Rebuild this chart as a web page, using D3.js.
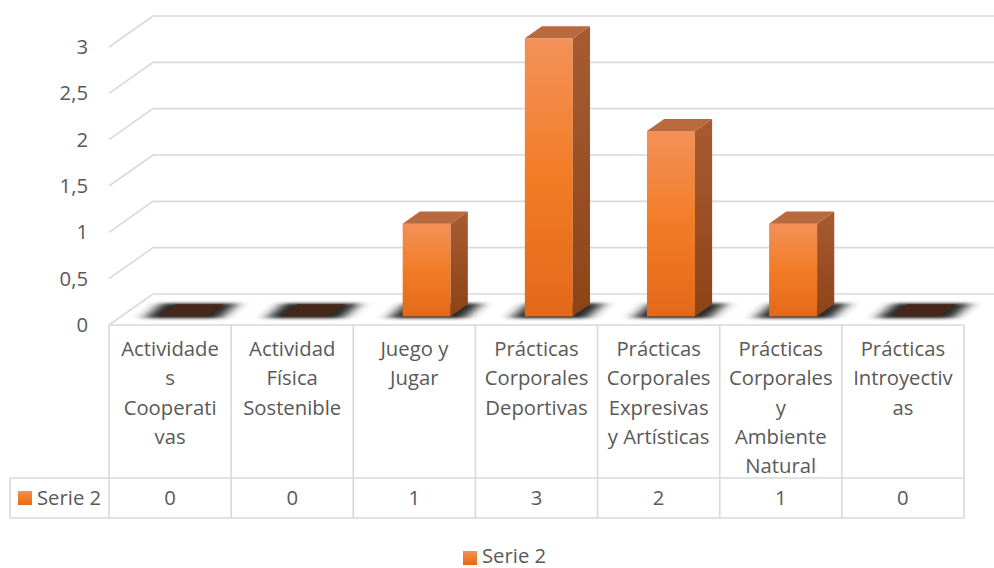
<!DOCTYPE html>
<html>
<head>
<meta charset="utf-8">
<script src="https://cdn.jsdelivr.net/npm/d3@7/dist/d3.min.js"></script>
<style>
  html, body { margin: 0; padding: 0; background: #ffffff; }
  svg { display: block; }
  text { font-family: "Open Sans", Lato, sans-serif; fill: #595959; }
</style>
</head>
<body>
<svg id="chart" width="994" height="568"></svg>
<script>
// Category labels, as wrapped in the table header
const categoryLines = [
  ["Actividade", "s", "Cooperati", "vas"],
  ["Actividad", "Física", "Sostenible"],
  ["Juego y", "Jugar"],
  ["Prácticas", "Corporales", "Deportivas"],
  ["Prácticas", "Corporales", "Expresivas", "y Artísticas"],
  ["Prácticas", "Corporales", "y", "Ambiente", "Natural"],
  ["Prácticas", "Introyectiv", "as"]
];
const categories = categoryLines.map(l => l.join(" "));
const seriesName = "Serie 2";
const values = [0, 0, 1, 3, 2, 1, 0];
const yTicks = [0, 0.5, 1, 1.5, 2, 2.5, 3];

const svg = d3.select("#chart");
const W = 994;
const fontSize = 20.3;

// Layout of the 3D plot area
const left = 109, right = 964;
const floorY = 325, topY = 47;
const depth = { dx: 44, dy: -31 };      // offset from front plane to back wall
const barFront = 0.28, barBack = 0.67;   // bar depth position as fractions of depth
const tableHeaderBottom = 478, tableBottom = 518, tableLeft = 10;

const x = d3.scaleBand().domain(categories).range([left, right]).padding(0);
const y = d3.scaleLinear().domain([0, 3]).range([floorY, topY]);
const fmt = d3.formatLocale({ decimal: ",", thousands: ".", grouping: [3], currency: ["", "€"] }).format("~g");

const defs = svg.append("defs");
const gFront = defs.append("linearGradient").attr("id", "frontGrad").attr("x1", 0).attr("y1", 0).attr("x2", 0).attr("y2", 1);
gFront.append("stop").attr("offset", "0%").attr("stop-color", "#F39159");
gFront.append("stop").attr("offset", "50%").attr("stop-color", "#F27C26");
gFront.append("stop").attr("offset", "100%").attr("stop-color", "#E2691A");
const gSide = defs.append("linearGradient").attr("id", "sideGrad").attr("x1", 0).attr("y1", 0).attr("x2", 0).attr("y2", 1);
gSide.append("stop").attr("offset", "0%").attr("stop-color", "#A85B31");
gSide.append("stop").attr("offset", "100%").attr("stop-color", "#8C4417");
defs.append("filter").attr("id", "shadowBlur").attr("x", "-50%").attr("y", "-150%").attr("width", "200%").attr("height", "400%")
  .append("feGaussianBlur").attr("stdDeviation", "7 1.8");

// Gridlines: left-wall stubs and back-wall lines
const grid = svg.append("g").attr("fill", "none").attr("stroke", "#D9D9D9").attr("stroke-width", 1.6);
grid.selectAll("path").data(yTicks).join("path")
  .attr("d", v => `M${left},${y(v)} L${left + depth.dx},${y(v) + depth.dy} L${W},${y(v) + depth.dy}`);

// Y axis labels at the front plane
svg.append("g").selectAll("text").data(yTicks).join("text")
  .attr("x", 88).attr("y", v => y(v)).attr("dy", "0.35em")
  .attr("text-anchor", "end").attr("font-size", fontSize)
  .text(v => fmt(v));

// Bars
const bw = x.bandwidth();
const barW = bw * 0.393;
const f1x = depth.dx * barFront, f1y = depth.dy * barFront;
const ddx = depth.dx * (barBack - barFront), ddy = depth.dy * (barBack - barFront);

const bars = svg.append("g").selectAll("g").data(values.map((v, i) => ({ v, c: categories[i] }))).join("g");

function geom(d) {
  const x0 = x(d.c) + bw / 2 - barW / 2 + f1x;
  const y0 = y(0) + f1y;
  const yT = y(d.v) + f1y;
  return { x0, y0, yT, x1: x0 + barW };
}

// floor shadow beneath each bar
bars.append("path")
  .attr("d", d => {
    const g = geom(d), e = 14;
    return `M${g.x0 - e},${g.y0 + 2} L${g.x1 + e},${g.y0 + 2} L${g.x1 + ddx + e},${g.y0 + ddy - 1} L${g.x0 + ddx - e},${g.y0 + ddy - 1} Z`;
  })
  .attr("fill", "#262626").attr("filter", "url(#shadowBlur)");

// front face
bars.filter(d => d.v > 0).append("rect")
  .attr("x", d => geom(d).x0).attr("y", d => geom(d).yT)
  .attr("width", barW).attr("height", d => geom(d).y0 - geom(d).yT)
  .attr("fill", "url(#frontGrad)");

// side face
bars.filter(d => d.v > 0).append("path")
  .attr("d", d => {
    const g = geom(d);
    return `M${g.x1},${g.yT} L${g.x1 + ddx},${g.yT + ddy} L${g.x1 + ddx},${g.y0 + ddy} L${g.x1},${g.y0} Z`;
  })
  .attr("fill", "url(#sideGrad)");

// top face (dark cap for empty bars)
bars.append("path")
  .attr("d", d => {
    const g = geom(d);
    return `M${g.x0},${g.yT} L${g.x1},${g.yT} L${g.x1 + ddx},${g.yT + ddy} L${g.x0 + ddx},${g.yT + ddy} Z`;
  })
  .attr("fill", d => d.v > 0 ? "#B8693E" : "#46281A");

// Data table
const table = svg.append("g").attr("stroke", "#D9D9D9").attr("stroke-width", 1.6).attr("fill", "none");
table.append("line").attr("x1", left).attr("x2", right).attr("y1", floorY).attr("y2", floorY);
table.append("line").attr("x1", tableLeft).attr("x2", right).attr("y1", tableHeaderBottom).attr("y2", tableHeaderBottom);
table.append("line").attr("x1", tableLeft).attr("x2", right).attr("y1", tableBottom).attr("y2", tableBottom);
table.append("line").attr("x1", tableLeft).attr("x2", tableLeft).attr("y1", tableHeaderBottom).attr("y2", tableBottom);
table.selectAll(".v").data(categories.map(c => x(c)).concat([right])).join("line")
  .attr("x1", d => d).attr("x2", d => d).attr("y1", floorY).attr("y2", tableBottom);

// header labels
const header = svg.append("g").attr("font-size", fontSize).attr("text-anchor", "middle");
header.selectAll("text").data(categoryLines.map((l, i) => ({ l, c: categories[i] }))).join("text")
  .attr("x", d => x(d.c) + bw / 2)
  .each(function (d) {
    d3.select(this).selectAll("tspan").data(d.l).join("tspan")
      .attr("x", x(d.c) + bw / 2)
      .attr("y", (t, j) => 349 + j * 29.3)
      .attr("dy", "0.35em")
      .text(t => t);
  });

// values row
svg.append("g").attr("font-size", fontSize).attr("text-anchor", "middle")
  .selectAll("text").data(values.map((v, i) => ({ v, c: categories[i] }))).join("text")
  .attr("x", d => x(d.c) + bw / 2).attr("y", 498).attr("dy", "0.35em")
  .text(d => d.v);

// series key in the table
svg.append("rect").attr("x", 18).attr("y", 491).attr("width", 14).attr("height", 14).attr("fill", "url(#frontGrad)");
svg.append("text").attr("x", 37).attr("y", 498).attr("dy", "0.35em").attr("font-size", fontSize).text(seriesName);

// Legend
svg.append("rect").attr("x", 463).attr("y", 551).attr("width", 14).attr("height", 14).attr("fill", "url(#frontGrad)");
svg.append("text").attr("x", 482).attr("y", 556).attr("dy", "0.35em").attr("font-size", fontSize).text(seriesName);
</script>
</body>
</html>
